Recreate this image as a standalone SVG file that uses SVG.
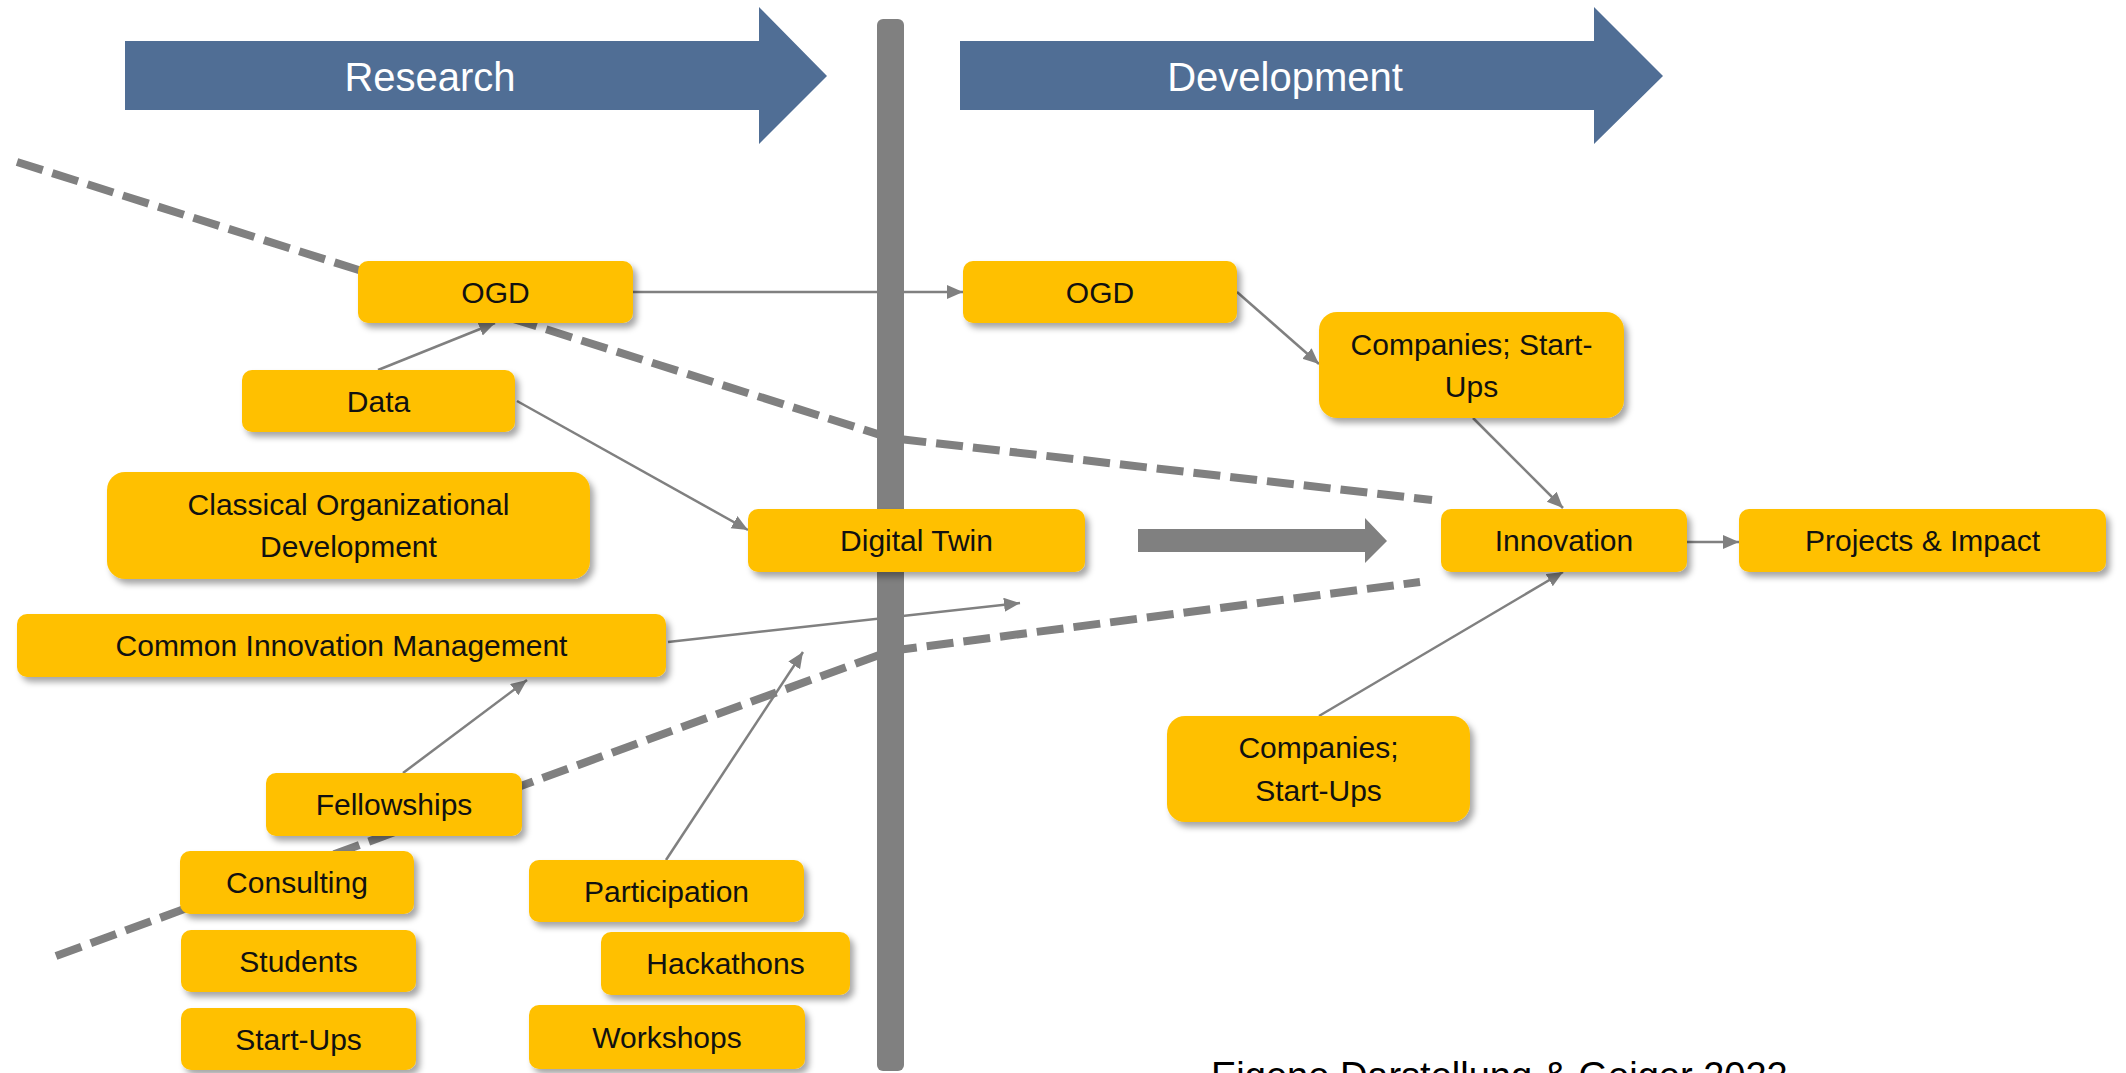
<svg xmlns="http://www.w3.org/2000/svg" width="2126" height="1073" viewBox="0 0 2126 1073">
<style>
.node rect{fill:#FFC000;filter:url(#sh)}
.node text{font-family:"Liberation Sans",Arial,sans-serif;font-size:30px;fill:#111;text-anchor:middle}
.band{fill:#506E95}
.band-t{font-family:"Liberation Sans",Arial,sans-serif;font-size:40px;fill:#fff;text-anchor:middle}
.conn line{stroke:#808080;stroke-width:2.5;marker-end:url(#ah)}
.dash{fill:none;stroke:#808080;stroke-width:8;stroke-dasharray:27 10}
</style>
<defs>
<filter id="sh" x="-10%" y="-20%" width="130%" height="160%">
<feDropShadow dx="4" dy="5" stdDeviation="3" flood-color="#000" flood-opacity="0.35"/>
</filter>
<marker id="ah" markerUnits="userSpaceOnUse" markerWidth="17" markerHeight="15" refX="16" refY="7" orient="auto">
<path d="M0,0 L16,7 L0,14 z" fill="#808080"/>
</marker>
</defs>
<rect width="2126" height="1073" fill="#fff"/>
<g id="band-research">
<polygon class="band" points="125,41 759,41 759,7 827,76 759,144 759,110 125,110"/>
<text class="band-t" x="430" y="91">Research</text>
</g>
<g id="band-development">
<polygon class="band" points="960,41 1594,41 1594,7 1663,76 1594,144 1594,110 960,110"/>
<text class="band-t" x="1285" y="91">Development</text>
</g>
<rect id="divider" x="877" y="19" width="27" height="1052" rx="6" fill="#808080"/>
<g id="boundaries">
<polyline class="dash" points="17,162 890,438 1432,500"/>
<polyline class="dash" points="56,956 890,651 1420,582"/>
</g>
<polygon id="big-arrow" points="1138,529 1365,529 1365,518 1387,541 1365,563 1365,552 1138,552" fill="#808080"/>
<g id="connectors" class="conn">
<line x1="633" y1="292" x2="963" y2="292"/>
<line x1="378" y1="370" x2="495" y2="323"/>
<line x1="517" y1="401" x2="748" y2="530"/>
<line x1="1237" y1="292" x2="1319" y2="364"/>
<line x1="1473" y1="418" x2="1563" y2="508"/>
<line x1="1687" y1="542" x2="1739" y2="542"/>
<line x1="1319" y1="716" x2="1563" y2="572"/>
<line x1="668" y1="642" x2="1020" y2="603"/>
<line x1="403" y1="773" x2="527" y2="680"/>
<line x1="666" y1="860" x2="803" y2="652"/>
</g>
<g id="n-ogd-r" class="node"><rect x="358" y="261" width="275" height="62" rx="10"/><text x="495.5" y="303">OGD</text></g>
<g id="n-data" class="node"><rect x="242" y="370" width="273" height="62" rx="10"/><text x="378.5" y="412">Data</text></g>
<g id="n-classical" class="node"><rect x="107" y="472" width="483" height="107" rx="18"/><text x="348.5" y="515">Classical Organizational</text><text x="348.5" y="557">Development</text></g>
<g id="n-twin" class="node"><rect x="748" y="509" width="337" height="63" rx="10"/><text x="916.5" y="551">Digital Twin</text></g>
<g id="n-cim" class="node"><rect x="17" y="614" width="649" height="63" rx="10"/><text x="341.5" y="656">Common Innovation Management</text></g>
<g id="n-fellow" class="node"><rect x="266" y="773" width="256" height="63" rx="10"/><text x="394" y="815">Fellowships</text></g>
<g id="n-consult" class="node"><rect x="180" y="851" width="234" height="63" rx="10"/><text x="297" y="893">Consulting</text></g>
<g id="n-students" class="node"><rect x="181" y="930" width="235" height="62" rx="10"/><text x="298.5" y="972">Students</text></g>
<g id="n-startups" class="node"><rect x="181" y="1008" width="235" height="62" rx="10"/><text x="298.5" y="1050">Start-Ups</text></g>
<g id="n-particip" class="node"><rect x="529" y="860" width="275" height="62" rx="10"/><text x="666.5" y="902">Participation</text></g>
<g id="n-hack" class="node"><rect x="601" y="932" width="249" height="63" rx="10"/><text x="725.5" y="974">Hackathons</text></g>
<g id="n-work" class="node"><rect x="529" y="1005" width="276" height="64" rx="10"/><text x="667" y="1048">Workshops</text></g>
<g id="n-ogd-d" class="node"><rect x="963" y="261" width="274" height="62" rx="10"/><text x="1100" y="303">OGD</text></g>
<g id="n-comp-top" class="node"><rect x="1319" y="312" width="305" height="106" rx="18"/><text x="1471.5" y="355">Companies; Start-</text><text x="1471.5" y="397">Ups</text></g>
<g id="n-innov" class="node"><rect x="1441" y="509" width="246" height="63" rx="10"/><text x="1564" y="551">Innovation</text></g>
<g id="n-proj" class="node"><rect x="1739" y="509" width="367" height="63" rx="10"/><text x="1922.5" y="551">Projects &amp; Impact</text></g>
<g id="n-comp-bot" class="node"><rect x="1167" y="716" width="303" height="106" rx="18"/><text x="1318.5" y="758">Companies;</text><text x="1318.5" y="801">Start-Ups</text></g>
<text id="caption" x="1211" y="1089" font-family="'Liberation Sans',Arial,sans-serif" font-size="38" fill="#000">Eigene Darstellung &amp; Geiger 2022</text>
</svg>
